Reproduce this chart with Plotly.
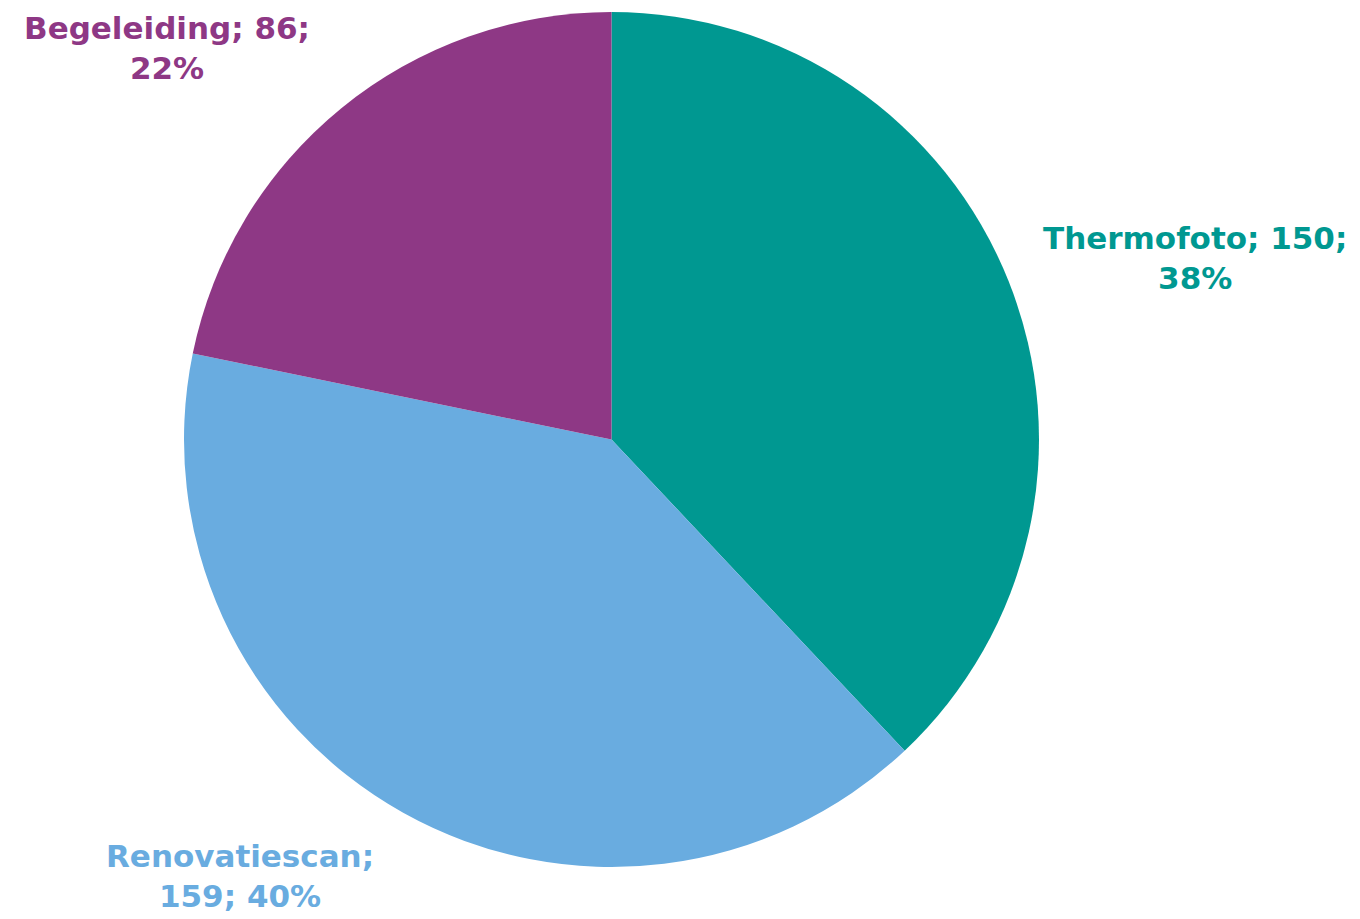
import plotly.graph_objects as go

categories = ["Thermofoto", "Renovatiescan", "Begeleiding"]
values = [150, 159, 86]
colors = ["#009891", "#69ACE0", "#8E3885"]

W, H = 1360, 919
OFF = 8  # page body margin offset
total = sum(values)
pcts = [round(v / total * 100) for v in values]

fig = go.Figure(go.Pie(
    labels=categories, values=values, sort=False, direction="clockwise",
    rotation=0, marker=dict(colors=colors, line=dict(color="white", width=0)),
    textinfo="none", hoverinfo="label+value+percent", showlegend=False,
    domain=dict(x=[(183 - OFF) / W, (1040 - OFF) / W],
                y=[1 - (867 - OFF) / H, 1 - (12 - OFF) / H]),
))

label_texts = [
    f"{categories[0]}; {values[0]};<br>{pcts[0]}%",
    f"{categories[1]};<br>{values[1]}; {pcts[1]}%",
    f"{categories[2]}; {values[2]};<br>{pcts[2]}%",
]
label_pos = [(1195, 258), (240, 876), (167, 48)]
for t, (px, py), c in zip(label_texts, label_pos, colors):
    fig.add_annotation(x=(px - OFF) / W, y=1 - (py - OFF) / H,
                       xref="paper", yref="paper", xanchor="center", yanchor="middle",
                       text=f"<b>{t}</b>", showarrow=False, align="center",
                       font=dict(family="DejaVu Sans", size=31, color=c))

fig.update_layout(width=W, height=H, margin=dict(l=0, r=0, t=0, b=0),
                  paper_bgcolor="white", plot_bgcolor="white")
fig.write_html("out.html")
